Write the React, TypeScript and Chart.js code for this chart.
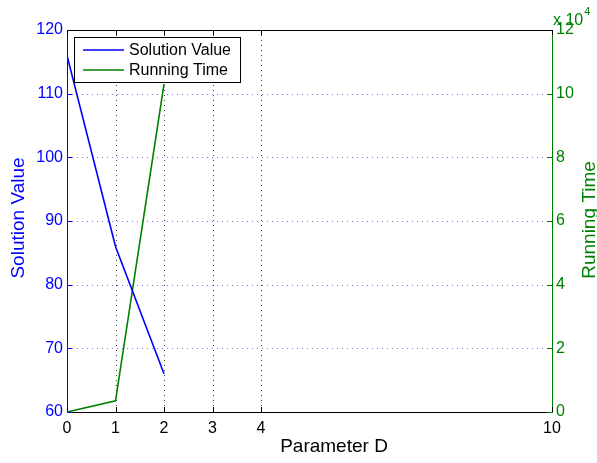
import React, { useEffect, useRef } from "react";
import { Chart, registerables } from "chart.js";

Chart.register(...registerables);

// ---- data ----
const xValues = [0, 1, 2];
const solutionValue = [116, 86, 66];
const runningTime = [0, 3500, 103000];
const xTickValues = [0, 1, 2, 3, 4, 10];
const leftTickValues = [60, 70, 80, 90, 100, 110, 120];
const rightTickValues = [0, 20000, 40000, 60000, 80000, 100000, 120000];
const seriesNames = ["Solution Value", "Running Time"];
const xTitle = "Parameter D";
const leftTitle = "Solution Value";
const rightTitle = "Running Time";
const exponentText = "x 10";
const exponentPower = "4";

const BLUE = "#0000ff";
const GREEN = "#008000";
const FONT = "'Liberation Sans', Arial, Helvetica, sans-serif";

const decorPlugin = {
  id: "decor",
  beforeDatasetsDraw(chart: any) {
    const { ctx, chartArea: a, scales } = chart;
    const xs = scales.x;
    const yl = scales.y;
    const yr = scales.y1;
    ctx.save();
    ctx.lineWidth = 1;
    // x grid
    ctx.setLineDash([1, 4]);
    ctx.strokeStyle = "rgba(0,0,0,0.75)";
    xTickValues.forEach((v) => {
      if (v === xs.min || v === xs.max) return;
      const px = Math.round(xs.getPixelForValue(v)) + 0.5;
      ctx.beginPath();
      ctx.moveTo(px, a.top);
      ctx.lineTo(px, a.bottom);
      ctx.stroke();
    });
    // y grid
    ctx.strokeStyle = "rgba(60,60,255,0.7)";
    leftTickValues.forEach((v) => {
      if (v === yl.min || v === yl.max) return;
      const py = Math.round(yl.getPixelForValue(v)) + 0.5;
      ctx.beginPath();
      ctx.moveTo(a.left, py);
      ctx.lineTo(a.right, py);
      ctx.stroke();
    });
    ctx.setLineDash([]);
    // inner tick marks
    const tl = 5;
    ctx.strokeStyle = "#000";
    xTickValues.forEach((v) => {
      const px = Math.round(xs.getPixelForValue(v)) + 0.5;
      ctx.beginPath();
      ctx.moveTo(px, a.bottom);
      ctx.lineTo(px, a.bottom - tl);
      ctx.moveTo(px, a.top);
      ctx.lineTo(px, a.top + tl);
      ctx.stroke();
    });
    ctx.strokeStyle = BLUE;
    leftTickValues.forEach((v) => {
      const py = Math.round(yl.getPixelForValue(v)) + 0.5;
      ctx.beginPath();
      ctx.moveTo(a.left, py);
      ctx.lineTo(a.left + tl, py);
      ctx.stroke();
    });
    ctx.strokeStyle = GREEN;
    rightTickValues.forEach((v) => {
      const py = Math.round(yr.getPixelForValue(v)) + 0.5;
      ctx.beginPath();
      ctx.moveTo(a.right, py);
      ctx.lineTo(a.right - tl, py);
      ctx.stroke();
    });
    // top border
    ctx.strokeStyle = "#000";
    ctx.beginPath();
    ctx.moveTo(a.left, Math.round(a.top) + 0.5);
    ctx.lineTo(a.right, Math.round(a.top) + 0.5);
    ctx.stroke();
    ctx.restore();
  },
  afterDraw(chart: any) {
    const { ctx } = chart;
    ctx.save();
    // legend
    const lx = 74, ly = 37, lw = 166, lh = 45;
    ctx.fillStyle = "#fff";
    ctx.fillRect(lx, ly, lw, lh);
    ctx.strokeStyle = "#000";
    ctx.lineWidth = 1;
    ctx.strokeRect(lx + 0.5, ly + 0.5, lw, lh);
    const colors = [BLUE, GREEN];
    ctx.font = `16px ${FONT}`;
    ctx.textBaseline = "middle";
    ctx.textAlign = "left";
    seriesNames.forEach((name, i) => {
      const y = 50 + i * 20;
      ctx.strokeStyle = colors[i];
      ctx.lineWidth = 1.5;
      ctx.beginPath();
      ctx.moveTo(83, y);
      ctx.lineTo(124, y);
      ctx.stroke();
      ctx.fillStyle = "#000";
      ctx.fillText(name, 129, y + 1);
    });
    // exponent label
    ctx.fillStyle = GREEN;
    ctx.font = `16px ${FONT}`;
    ctx.textBaseline = "alphabetic";
    ctx.fillText(exponentText, 553, 25);
    const w = ctx.measureText(exponentText).width;
    ctx.font = `11px ${FONT}`;
    ctx.fillText(exponentPower, 553 + w + 1, 15);
    // axis titles
    ctx.font = `19px ${FONT}`;
    ctx.textAlign = "center";
    ctx.textBaseline = "middle";
    ctx.fillStyle = "#000";
    ctx.fillText(xTitle, 334, 447);
    ctx.save();
    ctx.translate(19, 218);
    ctx.rotate(-Math.PI / 2);
    ctx.fillStyle = BLUE;
    ctx.fillText(leftTitle, 0, 0);
    ctx.restore();
    ctx.save();
    ctx.translate(590, 220);
    ctx.rotate(-Math.PI / 2);
    ctx.fillStyle = GREEN;
    ctx.fillText(rightTitle, 0, 0);
    ctx.restore();
    ctx.restore();
  },
};

export default function App() {
  const ref = useRef<HTMLCanvasElement | null>(null);
  useEffect(() => {
    if (!ref.current) return;
    const chart = new Chart(ref.current, {
      type: "line",
      data: {
        datasets: [
          {
            label: seriesNames[0],
            data: xValues.map((x, i) => ({ x, y: solutionValue[i] })),
            borderColor: BLUE,
            backgroundColor: BLUE,
            borderWidth: 1.6,
            pointRadius: 0,
            yAxisID: "y",
          },
          {
            label: seriesNames[1],
            data: xValues.map((x, i) => ({ x, y: runningTime[i] })),
            borderColor: GREEN,
            backgroundColor: GREEN,
            borderWidth: 1.6,
            pointRadius: 0,
            yAxisID: "y1",
          },
        ],
      },
      options: {
        responsive: false,
        animation: false,
        layout: { padding: { top: 30, left: 0, right: 0, bottom: 0 } },
        plugins: { legend: { display: false }, tooltip: { enabled: false } },
        scales: {
          x: {
            type: "linear",
            min: 0,
            max: 10,
            grid: { display: false, drawTicks: false },
            border: { display: true, color: "#000", width: 1 },
            ticks: {
              autoSkip: false,
              maxRotation: 0,
              color: "#000",
              padding: 7,
              font: { family: FONT, size: 16 },
            },
            afterBuildTicks: (s: any) => {
              s.ticks = xTickValues.map((v) => ({ value: v }));
            },
            afterFit: (s: any) => {
              s.height = 51;
            },
          },
          y: {
            type: "linear",
            position: "left",
            min: 60,
            max: 120,
            grid: { display: false, drawTicks: false },
            border: { display: true, color: BLUE, width: 1 },
            ticks: {
              color: BLUE,
              padding: 4,
              font: { family: FONT, size: 16 },
            },
            afterBuildTicks: (s: any) => {
              s.ticks = leftTickValues.map((v) => ({ value: v }));
            },
            afterFit: (s: any) => {
              s.width = 67;
            },
          },
          y1: {
            type: "linear",
            position: "right",
            min: 0,
            max: 120000,
            grid: { display: false, drawTicks: false },
            border: { display: true, color: GREEN, width: 1 },
            ticks: {
              color: GREEN,
              padding: 4,
              font: { family: FONT, size: 16 },
              callback: (v: any) => String(Number(v) / 10000),
            },
            afterBuildTicks: (s: any) => {
              s.ticks = rightTickValues.map((v) => ({ value: v }));
            },
            afterFit: (s: any) => {
              s.width = 45;
            },
          },
        },
      } as any,
      plugins: [decorPlugin],
    });
    return () => chart.destroy();
  }, []);
  return (
    <div style={{ position: "fixed", left: 0, top: 0, width: 597, height: 463, background: "#fff" }}>
      <canvas ref={ref} width={597} height={463} style={{ width: 597, height: 463 }} />
    </div>
  );
}
